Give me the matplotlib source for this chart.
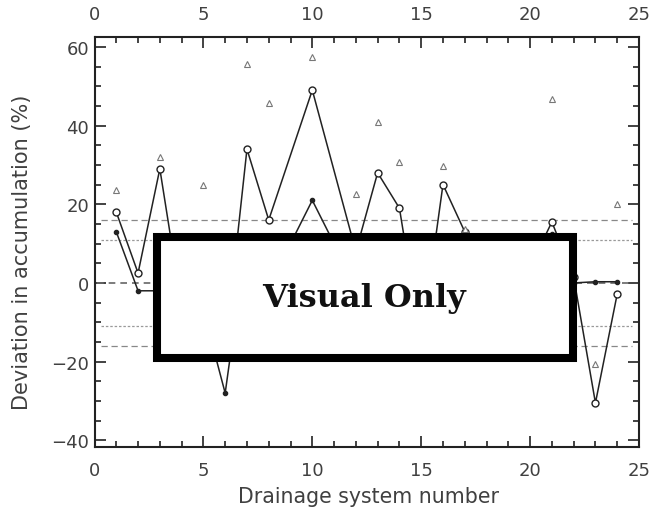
import numpy as np
import matplotlib
matplotlib.use("Agg")
import matplotlib.pyplot as plt
from matplotlib.patches import Rectangle
from matplotlib.ticker import MultipleLocator

# upper series (open markers), no values at 9 and 11
upper_x = [1, 2, 3, 4, 5, 6, 7, 8, 10, 12, 13, 14, 15, 16, 17,
           18, 19, 20, 21, 22, 23, 24]
upper_y = [18, 2.5, 29, -6, -12, -17, 34, 16, 49, 8, 28, 19, -15, 25, 13,
           -5, -8, 4, 15.5, 1.5, -30.5, -2.8]

# lower series (filled dots)
lower_x = list(range(1, 25))
lower_y = [13, -2, -2, -4, -7, -28, 12, 5, 10, 21, 10, 3,
           6, 2, -8, 4, 0, -4, 2, 5, 12.5, 0, 0.3, 0.3]

# triangles (visible ones)
tri_x = [1, 3, 5, 7, 8, 10, 12, 13, 14, 16, 17, 21, 23, 24]
tri_y = [23.5, 32, 25, 55.6, 45.7, 57.5, 22.6, 40.8, 30.8, 29.8, 13.7, 46.7, -20.7, 20]

# reference levels
ref_dash = [16, -16]
ref_dot = [11, -11]

fig = plt.figure(figsize=(6.53, 5.10), dpi=100)
ax = fig.add_axes([94.5/653, 62/510, 544.5/653, 410/510])

txt = "#404040"

for y in ref_dash:
    ax.plot([0.3, 24.7], [y, y], color="#888888", lw=0.9, ls=(0, (5, 3)))
for y in ref_dot:
    ax.plot([0.3, 24.7], [y, y], color="#9a9a9a", lw=0.9, ls=(0, (2, 1.5)))
ax.plot([0.1, 24.7], [0, 0], color="#666666", lw=1.2, ls=(0, (4, 3)))

ax.plot(upper_x, upper_y, color="#222222", lw=1.1, marker="o", ms=5,
        mfc="white", mec="#222222", mew=1.0)
ax.plot(lower_x, lower_y, color="#222222", lw=1.1, marker="o", ms=3,
        mfc="#222222", mec="#222222")
ax.plot(tri_x, tri_y, ls="none", marker="^", ms=4.5, mfc="white",
        mec="#777777", mew=0.8)

ax.set_xlim(0, 25)
ax.set_ylim(-41.7, 62.5)
ax.xaxis.set_major_locator(MultipleLocator(5))
ax.xaxis.set_minor_locator(MultipleLocator(1))
ax.yaxis.set_major_locator(MultipleLocator(20))
ax.yaxis.set_minor_locator(MultipleLocator(5))

ax.tick_params(which="both", direction="in", top=True, right=True,
               labeltop=True, labelright=False, colors="#222222",
               labelcolor=txt, labelsize=13, width=1.2)
ax.tick_params(which="major", length=8)
ax.tick_params(which="minor", length=4)
ax.tick_params(axis="x", which="major", pad=10)
ax.tick_params(axis="y", which="major", pad=4)
for s in ax.spines.values():
    s.set_linewidth(1.5)
    s.set_color("#222222")

fig.text(368/653, 1 - 497/510, "Drainage system number", ha="center",
         va="center", fontsize=14.8, color=txt)
fig.text(22/653, 1 - 252/510, "Deviation in accumulation (%)", ha="center",
         va="center", rotation=90, fontsize=15, color=txt)

# overlay box
box = Rectangle((157/653, 1 - 359/510), 416/653, 121/510,
                transform=fig.transFigure, facecolor="white",
                edgecolor="black", lw=5.8, zorder=10)
fig.add_artist(box)
fig.text(364/653, 1 - 298/510, "Visual Only", ha="center", va="center",
         fontsize=23, fontweight="bold", family="DejaVu Serif",
         color="#111111", zorder=11)

fig.savefig("out.png", dpi=100)
